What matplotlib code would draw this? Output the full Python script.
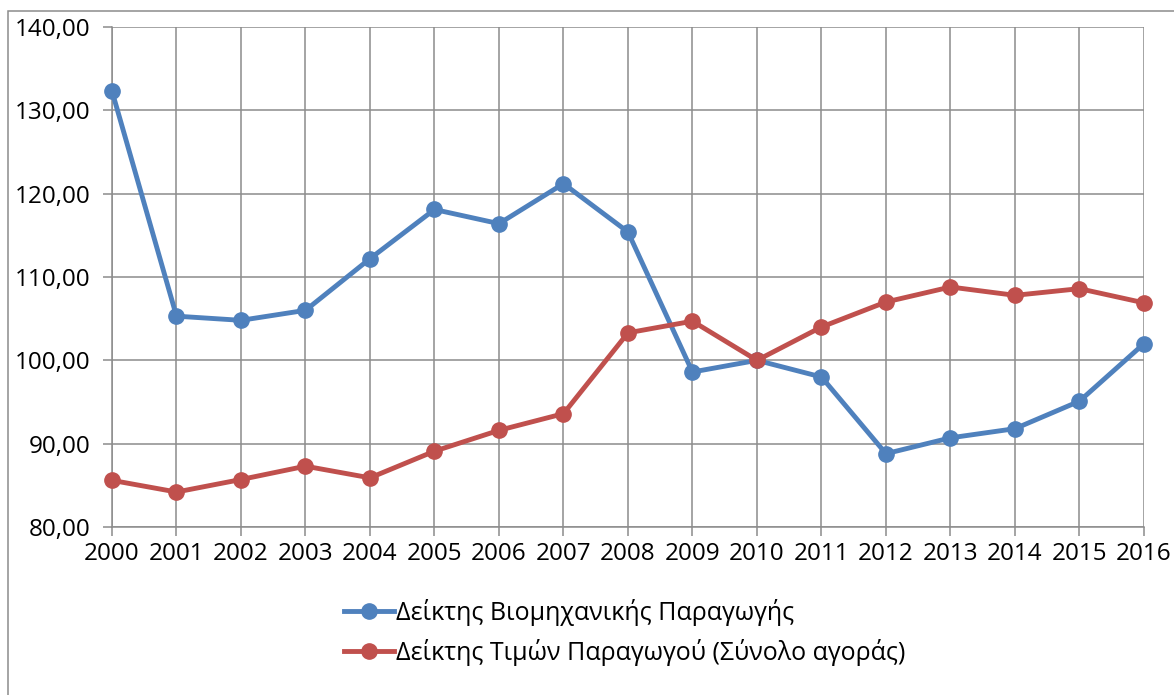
import matplotlib.pyplot as plt
from matplotlib.patches import Rectangle
from matplotlib.ticker import FuncFormatter

plt.rcParams['font.family'] = ['Open Sans', 'DejaVu Sans']

years = list(range(2000, 2017))
industrial_production = [132.3, 105.3, 104.8, 106.0, 112.2, 118.1, 116.4, 121.2, 115.4,
                         98.6, 100.0, 98.0, 88.8, 90.7, 91.8, 95.1, 102.0]
producer_prices = [85.6, 84.2, 85.7, 87.3, 85.9, 89.1, 91.6, 93.6, 103.3,
                   104.7, 100.0, 104.0, 107.0, 108.8, 107.8, 108.6, 106.9]
labels = ["Δείκτης Βιομηχανικής Παραγωγής",
          "Δείκτης Τιμών Παραγωγού (Σύνολο αγοράς)"]

fig = plt.figure(figsize=(11.74, 6.95), dpi=100)
ax = fig.add_axes([0.0954, 0.2417, 0.879, 0.7195])

ax.plot(years, industrial_production, color='#4F81BD', linewidth=3.5,
        marker='o', markersize=11, label=labels[0], clip_on=False, zorder=3)
ax.plot(years, producer_prices, color='#C0504D', linewidth=3.5,
        marker='o', markersize=11, label=labels[1], clip_on=False, zorder=3)

ax.set_xlim(2000, 2016)
ax.set_ylim(80, 140)
ax.set_xticks(years)
ax.set_yticks(range(80, 141, 10))
ax.yaxis.set_major_formatter(FuncFormatter(lambda v, p: f"{v:.2f}".replace('.', ',')))
ax.grid(True, color='#8c8c8c', linewidth=1.1)
ax.set_axisbelow(True)
for s in ['top', 'right']:
    ax.spines[s].set_visible(False)
for s in ['left', 'bottom']:
    ax.spines[s].set_color('#8c8c8c')
    ax.spines[s].set_linewidth(1.1)
ax.tick_params(axis='both', labelsize=17.5, color='#8c8c8c', width=1.1, length=6.5)
ax.tick_params(axis='x', pad=4)
ax.tick_params(axis='y', pad=9)

fig.legend(loc='center', bbox_to_anchor=(0.532, 0.09), frameon=False, fontsize=18,
           handlelength=2.0, handletextpad=0.1, labelspacing=0.5)

fig.patches.append(Rectangle((0.0068, -0.1), 1.2, 0.1 + 0.984, transform=fig.transFigure,
                             fill=False, edgecolor='#8c8c8c', linewidth=1.1))

fig.savefig('out.png', dpi=100)
